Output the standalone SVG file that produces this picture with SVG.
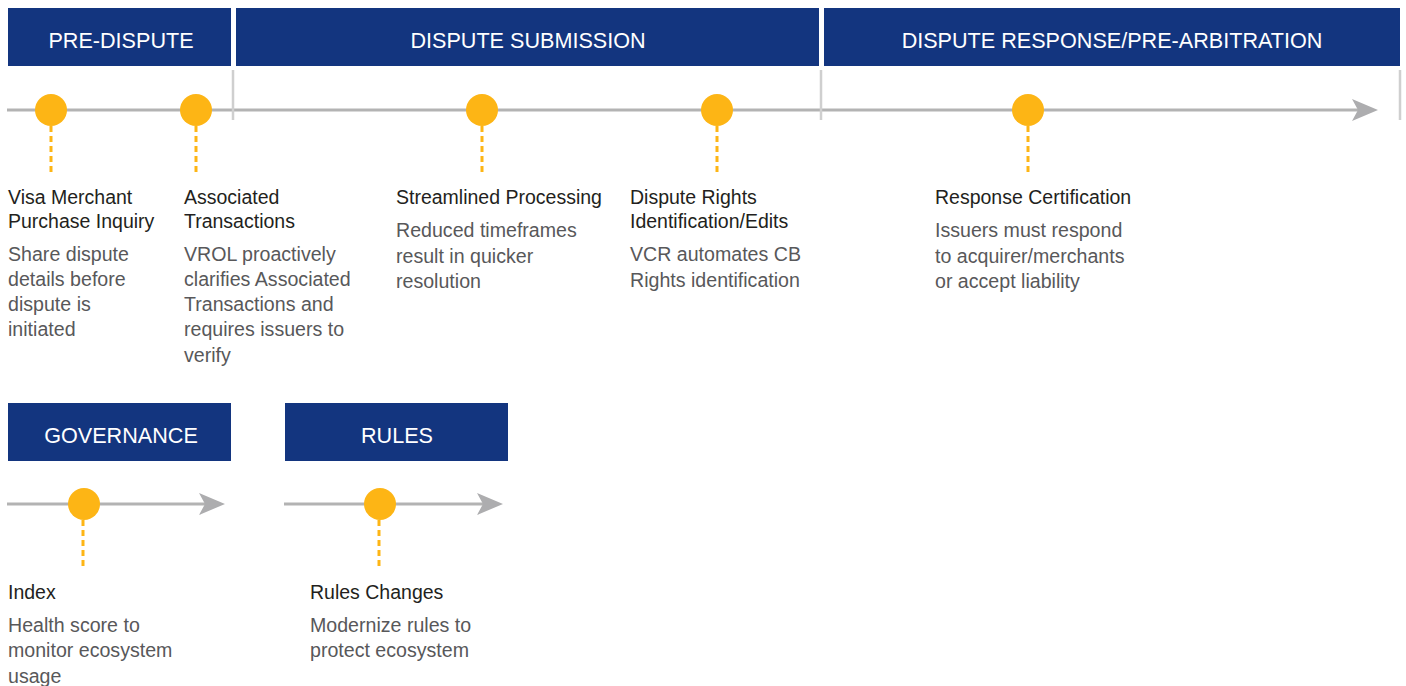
<svg xmlns="http://www.w3.org/2000/svg" width="1406" height="686" viewBox="0 0 1406 686">
<style>
.hdr{fill:#13357f}
.ht{fill:#fff;font-family:"Liberation Sans",Arial,sans-serif;font-size:21.6px;text-anchor:middle}
.tl{stroke:#b3b3b3;stroke-width:3;fill:none}
.tick{stroke:#cfcfcf;stroke-width:2.5}
.ah{fill:#adadaf}
.dot{fill:#fdb515}
.dash{stroke:#fdb515;stroke-width:3;stroke-dasharray:6 4;fill:none}
.tt{fill:#231f20;font-family:"Liberation Sans",Arial,sans-serif;font-size:19.5px}
.dt{fill:#58585a;font-family:"Liberation Sans",Arial,sans-serif;font-size:19.6px}
</style>
<rect width="1406" height="686" fill="#fff"/>
<g id="headers">
<g id="h-predispute"><rect class="hdr" x="8" y="8" width="223" height="58"/><text class="ht" x="121" y="48">PRE-DISPUTE</text></g>
<g id="h-submission"><rect class="hdr" x="236" y="8" width="583" height="58"/><text class="ht" x="528" y="48">DISPUTE SUBMISSION</text></g>
<g id="h-response"><rect class="hdr" x="824" y="8" width="576" height="58"/><text class="ht" x="1112" y="48">DISPUTE RESPONSE/PRE-ARBITRATION</text></g>
<g id="h-governance"><rect class="hdr" x="8" y="403" width="223" height="58"/><text class="ht" x="121" y="443">GOVERNANCE</text></g>
<g id="h-rules"><rect class="hdr" x="285" y="403" width="223" height="58"/><text class="ht" x="397" y="443">RULES</text></g>
</g>
<g id="connectors">
<line class="tl" x1="7" y1="110" x2="1360" y2="110"/>
<polygon class="ah" points="1378,110 1352,99 1358,110 1352,121"/>
<line class="tick" x1="233" y1="70" x2="233" y2="120"/>
<line class="tick" x1="821" y1="70" x2="821" y2="120"/>
<line class="tick" x1="1400" y1="70" x2="1400" y2="120"/>
<line class="tl" x1="7" y1="504" x2="207" y2="504"/>
<polygon class="ah" points="225,504 199,493 205,504 199,515"/>
<line class="tl" x1="284" y1="504" x2="485" y2="504"/>
<polygon class="ah" points="503,504 477,493 483,504 477,515"/>
<line class="dash" x1="51" y1="126" x2="51" y2="176"/>
<line class="dash" x1="196" y1="126" x2="196" y2="176"/>
<line class="dash" x1="482" y1="126" x2="482" y2="176"/>
<line class="dash" x1="717" y1="126" x2="717" y2="176"/>
<line class="dash" x1="1028" y1="126" x2="1028" y2="176"/>
<line class="dash" x1="83" y1="520" x2="83" y2="570"/>
<line class="dash" x1="379" y1="520" x2="379" y2="570"/>
</g>
<g id="n-vmpi">
<circle class="dot" cx="51" cy="110" r="16"/>
<text class="tt" x="8" y="204">Visa Merchant</text>
<text class="tt" x="8" y="228">Purchase Inquiry</text>
<text class="dt" x="8" y="261">Share dispute</text>
<text class="dt" x="8" y="286">details before</text>
<text class="dt" x="8" y="311">dispute is</text>
<text class="dt" x="8" y="336">initiated</text>
</g>
<g id="n-assoc">
<circle class="dot" cx="196" cy="110" r="16"/>
<text class="tt" x="184" y="204">Associated</text>
<text class="tt" x="184" y="228">Transactions</text>
<text class="dt" x="184" y="261">VROL proactively</text>
<text class="dt" x="184" y="286">clarifies Associated</text>
<text class="dt" x="184" y="311">Transactions and</text>
<text class="dt" x="184" y="336">requires issuers to</text>
<text class="dt" x="184" y="362">verify</text>
</g>
<g id="n-stream">
<circle class="dot" cx="482" cy="110" r="16"/>
<text class="tt" x="396" y="204">Streamlined Processing</text>
<text class="dt" x="396" y="237">Reduced timeframes</text>
<text class="dt" x="396" y="263">result in quicker</text>
<text class="dt" x="396" y="288">resolution</text>
</g>
<g id="n-rights">
<circle class="dot" cx="717" cy="110" r="16"/>
<text class="tt" x="630" y="204">Dispute Rights</text>
<text class="tt" x="630" y="228">Identification/Edits</text>
<text class="dt" x="630" y="261">VCR automates CB</text>
<text class="dt" x="630" y="287">Rights identification</text>
</g>
<g id="n-resp">
<circle class="dot" cx="1028" cy="110" r="16"/>
<text class="tt" x="935" y="204">Response Certification</text>
<text class="dt" x="935" y="237">Issuers must respond</text>
<text class="dt" x="935" y="263">to acquirer/merchants</text>
<text class="dt" x="935" y="288">or accept liability</text>
</g>
<g id="n-index">
<circle class="dot" cx="84" cy="504" r="16"/>
<text class="tt" x="8" y="599">Index</text>
<text class="dt" x="8" y="632">Health score to</text>
<text class="dt" x="8" y="657">monitor ecosystem</text>
<text class="dt" x="8" y="683">usage</text>
</g>
<g id="n-rules">
<circle class="dot" cx="380" cy="504" r="16"/>
<text class="tt" x="310" y="599">Rules Changes</text>
<text class="dt" x="310" y="632">Modernize rules to</text>
<text class="dt" x="310" y="657">protect ecosystem</text>
</g>
</svg>
